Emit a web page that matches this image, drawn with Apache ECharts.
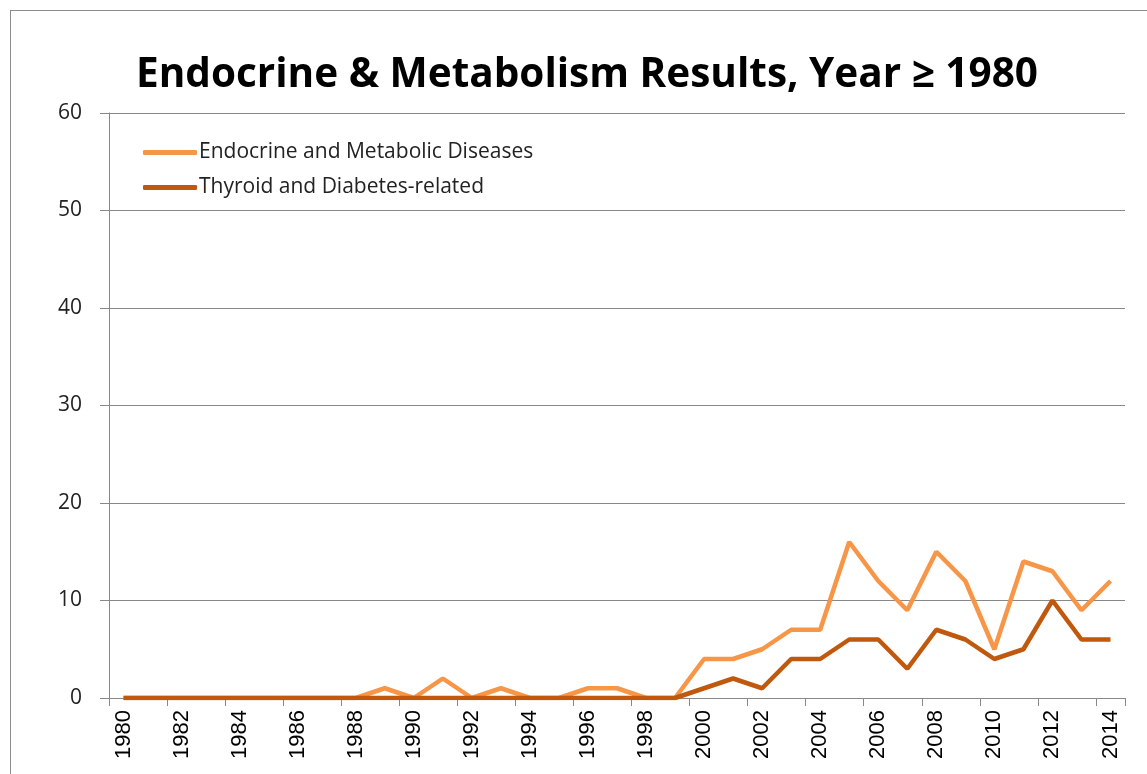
<!DOCTYPE html>
<html lang="en">
<head>
<meta charset="UTF-8">
<title>Endocrine & Metabolism Results</title>
<script src="https://cdn.jsdelivr.net/npm/echarts@6/dist/echarts.min.js"></script>
<style>
  html, body { margin: 0; padding: 0; background: #fff; overflow: hidden; }
  #frame { position: absolute; left: 10px; top: 10px; width: 1200px; height: 800px; border: 1px solid #8c8c8c; box-sizing: border-box; }
  #container { position: absolute; left: 0; top: 0; width: 1147px; height: 774px; }
</style>
</head>
<body>
<div id="frame"></div>
<div id="container"></div>
<script>
// years on the x axis
const years = [];
for (let y = 1980; y <= 2014; y++) years.push(String(y));

// series values
const endocrine = [0, 0, 0, 0, 0, 0, 0, 0, 0, 1, 0, 2, 0, 1, 0, 0, 1, 1, 0, 0,
  4, 4, 5, 7, 7, 16, 12, 9, 15, 12, 5, 14, 13, 9, 12];
const thyroid = [0, 0, 0, 0, 0, 0, 0, 0, 0, 0, 0, 0, 0, 0, 0, 0, 0, 0, 0, 0,
  1, 2, 1, 4, 4, 6, 6, 3, 7, 6, 4, 5, 10, 6, 6];

const chart = echarts.init(document.getElementById('container'));
chart.setOption({
  animation: false,
  title: {
    text: 'Endocrine & Metabolism Results, Year \u2265 1980',
    left: 131,
    top: 50,
    textStyle: { fontFamily: 'Open Sans', fontWeight: 'bold', fontSize: 40.5, color: '#000' }
  },
  legend: {
    orient: 'vertical',
    left: 138,
    top: 137,
    itemWidth: 54,
    itemHeight: 5,
    itemGap: 14,
    icon: 'roundRect',
    textStyle: { fontFamily: 'Open Sans', fontSize: 21, color: '#222', padding: [0, 0, 0, -3] },
    data: ['Endocrine and Metabolic Diseases', 'Thyroid and Diabetes-related']
  },
  grid: { left: 109, right: 22, top: 113, bottom: 76, containLabel: false },
  xAxis: {
    type: 'category',
    data: years,
    boundaryGap: true,
    axisLine: { lineStyle: { color: '#888' } },
    axisTick: { show: true, length: 8, lineStyle: { color: '#888' } },
    axisLabel: {
      rotate: 90,
      interval: 1,
      margin: 12,
      fontFamily: 'Liberation Sans',
      fontSize: 22,
      color: '#000'
    }
  },
  yAxis: {
    type: 'value',
    min: 0,
    max: 60,
    interval: 10,
    axisLine: { show: true, lineStyle: { color: '#888' } },
    axisTick: { show: true, length: 9, lineStyle: { color: '#888' } },
    axisLabel: { margin: 27, fontFamily: 'Open Sans', fontSize: 21, color: '#222' },
    splitLine: { lineStyle: { color: '#888' } }
  },
  series: [
    {
      name: 'Endocrine and Metabolic Diseases',
      type: 'line',
      data: endocrine,
      symbol: 'none',
      itemStyle: { color: '#F79646' },
      lineStyle: { width: 4.5, color: '#F79646' }
    },
    {
      name: 'Thyroid and Diabetes-related',
      type: 'line',
      data: thyroid,
      symbol: 'none',
      itemStyle: { color: '#C0580E' },
      lineStyle: { width: 4.5, color: '#C0580E' }
    }
  ]
});
</script>
</body>
</html>
